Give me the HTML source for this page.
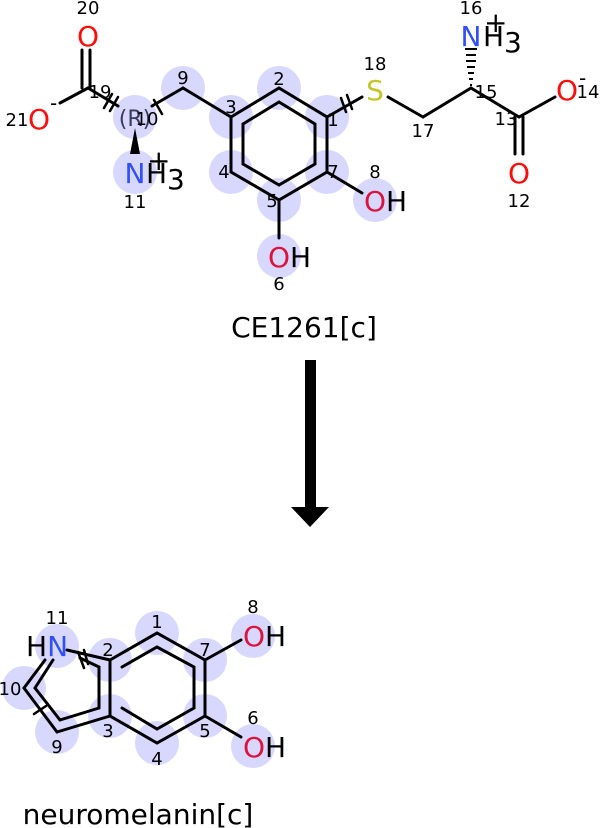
<!DOCTYPE html>
<html><head><meta charset="utf-8"><style>
html,body{margin:0;padding:0;background:#fff;}
svg{display:block;font-family:"DejaVu Sans","Liberation Sans",sans-serif;}
.n{font-size:18px;fill:#000;text-anchor:middle;}
.a{font-size:28px;text-anchor:middle;}
</style></head><body>
<svg width="601" height="828" viewBox="0 0 601 828">
<g fill="#d8d8ff">
<circle cx="183" cy="88" r="22"/><circle cx="279" cy="88" r="22"/><circle cx="327" cy="117" r="22"/>
<circle cx="231" cy="117" r="22"/><circle cx="135" cy="117" r="22"/><circle cx="231" cy="172" r="22"/>
<circle cx="327" cy="172" r="22"/><circle cx="279" cy="200" r="22"/><circle cx="135" cy="172" r="22"/>
<circle cx="279" cy="256" r="22"/><circle cx="375" cy="200" r="22"/>
<circle cx="157" cy="633" r="22"/><circle cx="110" cy="660" r="22"/><circle cx="205" cy="660" r="22"/>
<circle cx="110" cy="716" r="22"/><circle cx="205" cy="716" r="22"/><circle cx="157" cy="743" r="22"/>
<circle cx="57" cy="646" r="22"/><circle cx="24" cy="688" r="22"/><circle cx="57" cy="732" r="22"/>
<circle cx="253" cy="636" r="22"/><circle cx="253" cy="746" r="22"/>
</g>
<g stroke="#000" stroke-width="3" fill="none" stroke-linecap="round">
<line x1="82" y1="50" x2="82" y2="88"/><line x1="90" y1="50" x2="90" y2="88"/>
<line x1="60" y1="103" x2="88" y2="88"/>
<line x1="88" y1="88" x2="118" y2="106"/>
<line x1="152" y1="106" x2="183" y2="88"/>
<line x1="183" y1="88" x2="231" y2="117"/>
<polygon points="231,117 279,88 327,117 327,172 279,200 231,172"/>
<polygon points="243,124 279,102 315,124 315,164 279,185 243,164"/>
<line x1="279" y1="200" x2="279" y2="238"/>
<line x1="327" y1="172" x2="362" y2="193"/>
<line x1="327" y1="117" x2="362" y2="97"/>
<line x1="388" y1="97" x2="423" y2="117"/>
<line x1="423" y1="117" x2="471" y2="88"/>
<line x1="471" y1="88" x2="519" y2="117"/>
<line x1="519" y1="117" x2="555" y2="97"/>
<line x1="515" y1="117" x2="515" y2="154"/><line x1="523" y1="117" x2="523" y2="154"/>
<line x1="104" y1="108" x2="112" y2="94" stroke-width="2.5"/><line x1="110" y1="111" x2="118" y2="97" stroke-width="2.5"/>
<line x1="154" y1="100" x2="162" y2="114" stroke-width="2.5"/>
<line x1="346" y1="112" x2="341" y2="98" stroke-width="2.5"/><line x1="352" y1="109" x2="347" y2="95" stroke-width="2.5"/>
<polyline points="110,660 157,633 205,660 205,716 157,743 110,716 110,660"/>
<polyline points="122,667 157,647 194,667 194,708 157,729 122,708"/>
<line x1="67" y1="650" x2="110" y2="660"/>
<line x1="80" y1="658" x2="99" y2="667"/>
<line x1="99" y1="667" x2="99" y2="708"/>
<line x1="110" y1="716" x2="57" y2="732"/>
<line x1="99" y1="708" x2="60" y2="720"/>
<line x1="57" y1="732" x2="24" y2="688"/>
<line x1="60" y1="720" x2="35" y2="688"/>
<line x1="24" y1="688" x2="45" y2="660"/>
<line x1="35" y1="688" x2="53" y2="660"/>
<line x1="205" y1="660" x2="241" y2="640"/>
<line x1="205" y1="716" x2="241" y2="737"/>
<line x1="78" y1="652" x2="84" y2="668" stroke-width="2.5"/><line x1="84" y1="650" x2="88" y2="664" stroke-width="2.5"/>
<line x1="34" y1="714" x2="46" y2="706" stroke-width="2.5"/>
</g>
<polygon points="135,128 130,154 140,154" fill="#000"/>
<g stroke="#000" stroke-width="2">
<line x1="465" y1="49" x2="477" y2="49"/><line x1="466" y1="55" x2="476" y2="55"/><line x1="466" y1="61" x2="476" y2="61"/>
<line x1="467" y1="67" x2="475" y2="67"/><line x1="468" y1="73" x2="474" y2="73"/><line x1="469" y1="79" x2="473" y2="79"/><line x1="470" y1="85" x2="472" y2="85"/>
</g>
<text class="a" x="88" y="46" fill="#ff0d0d">O</text>
<text class="a" x="39" y="129" fill="#ff0d0d">O</text>
<text x="50" y="110" font-size="20">-</text>
<text x="135" y="126" font-size="22" fill="#3a3a5a" text-anchor="middle">(R)</text>
<text class="a" x="135" y="183" fill="#3050f8">N</text>
<text x="146" y="183" font-size="28">H</text><text x="167" y="189" font-size="28">3</text>
<text x="147" y="170" font-size="28">+</text>
<text class="a" x="375" y="100" fill="#c6c62c">S</text>
<text class="a" x="471" y="46" fill="#3050f8">N</text>
<text x="483" y="46" font-size="28">H</text><text x="504" y="52" font-size="28">3</text>
<text x="484" y="32" font-size="28">+</text>
<text class="a" x="567" y="100" fill="#ff0d0d">O</text>
<text x="579" y="85" font-size="20">-</text>
<text class="a" x="519" y="183" fill="#ff0d0d">O</text>
<text x="268" y="267" font-size="28"><tspan fill="#dc143c">O</tspan>H</text>
<text x="364" y="211" font-size="28"><tspan fill="#dc143c">O</tspan>H</text>
<text x="26" y="656" font-size="28">H<tspan fill="#3050f8">N</tspan></text>
<text x="243" y="646" font-size="28"><tspan fill="#dc143c">O</tspan>H</text>
<text x="243" y="757" font-size="28"><tspan fill="#dc143c">O</tspan>H</text>
<text class="n" x="88" y="14">20</text><text class="n" x="100" y="98">19</text>
<text class="n" x="17" y="126">21</text><text class="n" x="147" y="125">10</text>
<text class="n" x="135" y="208">11</text><text class="n" x="183" y="84">9</text>
<text class="n" x="279" y="85">2</text><text class="n" x="231" y="113">3</text>
<text class="n" x="333" y="126">1</text><text class="n" x="224" y="178">4</text>
<text class="n" x="272" y="207">5</text><text class="n" x="333" y="178">7</text>
<text class="n" x="279" y="290">6</text><text class="n" x="375" y="178">8</text>
<text class="n" x="375" y="70">18</text><text class="n" x="423" y="137">17</text>
<text class="n" x="471" y="14">16</text><text class="n" x="486" y="98">15</text>
<text class="n" x="506" y="125">13</text><text class="n" x="519" y="207">12</text>
<text class="n" x="588" y="98">14</text>
<text class="n" x="57" y="624">11</text><text class="n" x="157" y="628">1</text>
<text class="n" x="108" y="656">2</text><text class="n" x="205" y="656">7</text>
<text class="n" x="108" y="737">3</text><text class="n" x="205" y="737">5</text>
<text class="n" x="157" y="765">4</text><text class="n" x="57" y="753">9</text>
<text class="n" x="10" y="695">10</text><text class="n" x="253" y="613">8</text>
<text class="n" x="253" y="724">6</text>
<text x="304" y="337" font-size="28" text-anchor="middle">CE1261[c]</text>
<text x="138" y="824" font-size="28" text-anchor="middle">neuromelanin[c]</text>
<rect x="305" y="360" width="11" height="148" fill="#000"/>
<polygon points="291,507 329,507 310,527" fill="#000"/>
</svg>
</body></html>
